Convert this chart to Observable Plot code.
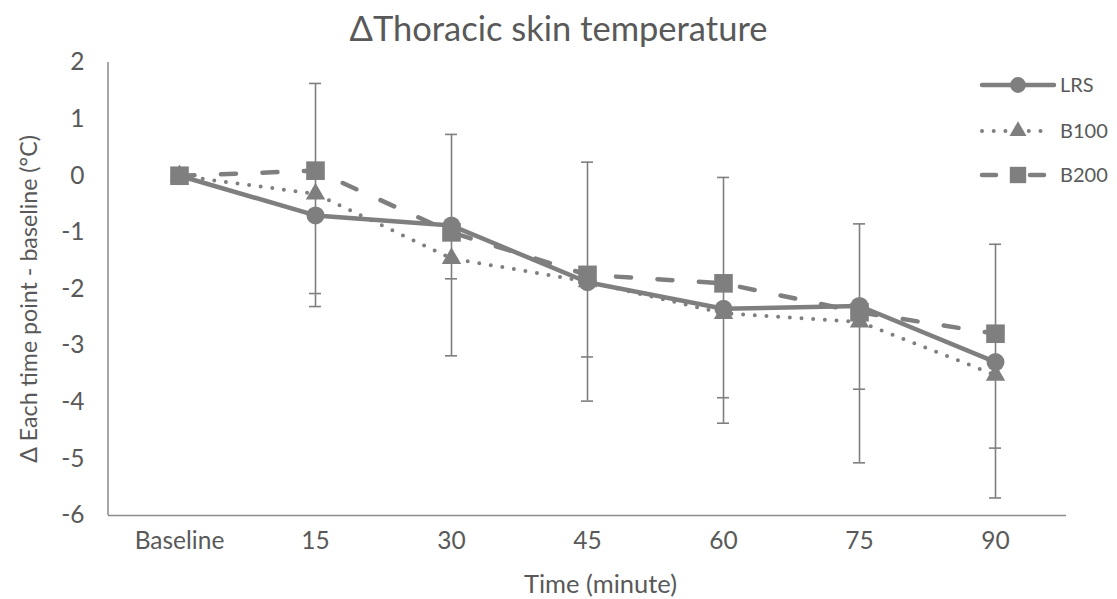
<!DOCTYPE html>
<html>
<head>
<meta charset="utf-8">
<script src="https://cdn.jsdelivr.net/npm/d3@7"></script>
<script src="https://cdn.jsdelivr.net/npm/@observablehq/plot@0.6"></script>
<style>
  body { margin: 0; background: #fff; font-family: Lato, "Open Sans", sans-serif; }
  #wrap { position: relative; width: 1117px; height: 599px; overflow: hidden; }
  #title { height: 35px; padding-top: 10px; line-height: 36px; text-align: center;
           font-size: 34.5px; color: #595959; }
  #legend { position: absolute; left: 0; top: 0; pointer-events: none; }
</style>
</head>
<body>
<div id="wrap">
  <div id="title">ΔThoracic skin temperature</div>
  <div id="chart"></div>
  <svg id="legend" width="1117" height="599"></svg>
</div>
<script>
// Time points (x categories)
const categories = ["Baseline", "15", "30", "45", "60", "75", "90"];

// Mean change from baseline (°C) per group
const lrs  = [0, -0.70, -0.88, -1.88, -2.35, -2.30, -3.29];
const b100 = [0, -0.32, -1.46, -1.87, -2.43, -2.58, -3.52];
const b200 = [0,  0.09, -1.00, -1.75, -1.90, -2.41, -2.79];

// Error bar ends at each time point (no bars at baseline)
const whiskerTop  = [null,  1.63,  0.73,  0.24, -0.03, -0.85, -1.21];
const whiskerLowA = [null, -2.08, -1.82, -3.20, -3.92, -3.77, -4.81];
const whiskerLowB = [null, -2.31, -3.18, -3.98, -4.37, -5.07, -5.69];

const yTicks = [2, 1, 0, -1, -2, -3, -4, -5, -6];

const grey = "#7f7f7f";
const textGrey = "#595959";

const series = [
  {name: "LRS",  values: lrs,  symbol: "circle",   r: 9,    dash: null,      cap: "round"},
  {name: "B100", values: b100, symbol: "triangle", r: 7.2,  dash: "0 11.7",  cap: "round", width: 4},
  {name: "B200", values: b200, symbol: "square",   r: 10.5, dash: "15 26.5", cap: "round"}
];

const rowsFor = s => categories.map((c, i) => ({time: c, value: s.values[i], series: s.name}));

const whiskers = categories
  .map((c, i) => ({time: c, top: whiskerTop[i], lowA: whiskerLowA[i], lowB: whiskerLowB[i]}))
  .filter(d => d.top !== null);

// Left axis line drawn from the y scale's domain ends
const axisLines = (index, scales, values, dimensions) => {
  const g = d3.create("svg:g").attr("stroke", "#8a8a8a").attr("stroke-width", 1.5);
  const [y0, y1] = [scales.y(d3.max(yTicks)), scales.y(d3.min(yTicks))];
  g.append("line")
    .attr("x1", dimensions.marginLeft).attr("x2", dimensions.marginLeft)
    .attr("y1", y0).attr("y2", y1);
  return g.node();
};

const capOpts = {x1: "time", x2: "time", stroke: grey, strokeWidth: 1.6, insetLeft: -6, insetRight: -6};

const marks = [
  // error bars
  Plot.ruleX(whiskers, {x: "time", y1: "top", y2: d => Math.min(d.lowA, d.lowB), stroke: grey, strokeWidth: 1.6}),
  Plot.ruleY(whiskers, {...capOpts, y: "top"}),
  Plot.ruleY(whiskers, {...capOpts, y: "lowA"}),
  Plot.ruleY(whiskers, {...capOpts, y: "lowB"}),
  // axes
  Plot.ruleY([d3.min(yTicks)], {stroke: "#8a8a8a", strokeWidth: 1.5}),
  axisLines,
  Plot.axisY({ticks: yTicks, tickSize: 0, tickPadding: 24, tickFormat: d => String(d), label: null, fontSize: 24.5}),
  Plot.axisX({tickSize: 0, tickPadding: 16, label: null, fontSize: 24.5}),
  Plot.text(["Time (minute)"], {frameAnchor: "bottom", textAnchor: "middle", dy: 77, dx: 13, fontSize: 25.5, fill: textGrey}),
  Plot.text(["Δ Each time point - baseline (°C)"], {frameAnchor: "left", textAnchor: "middle", rotate: -90, dx: -79, dy: 10, fontSize: 23.2, fill: textGrey})
];

for (const s of series) {
  marks.push(Plot.line(rowsFor(s), {
    x: "time", y: "value", stroke: grey, strokeWidth: s.width || 4.5,
    strokeDasharray: s.dash, strokeLinecap: s.cap, strokeLinejoin: "round"
  }));
}
for (const s of series) {
  marks.push(Plot.dot(rowsFor(s), {x: "time", y: "value", symbol: s.symbol, r: s.r, fill: grey, stroke: "none"}));
}

const chart = Plot.plot({
  width: 1117,
  height: 554,
  marginLeft: 108,
  marginRight: 51,
  marginTop: 17,
  marginBottom: 84,
  style: {fontFamily: "Lato, 'Open Sans', sans-serif", color: textGrey, background: "#fff", overflow: "visible"},
  x: {type: "point", domain: categories, padding: 0.5},
  y: {domain: [d3.min(yTicks), d3.max(yTicks)]},
  marks
});
document.getElementById("chart").appendChild(chart);

// Legend at the upper right
const legend = d3.select("#legend");
const legendY = [85, 131, 175];
series.forEach((s, i) => {
  const g = legend.append("g").attr("transform", `translate(0,${legendY[i]})`);
  g.append("line")
    .attr("x1", 982).attr("x2", s.name === "B100" ? 1050 : 1054)
    .attr("stroke", grey).attr("stroke-width", s.width || 4.5)
    .attr("stroke-linecap", "round")
    .attr("stroke-dasharray", s.name === "B200" ? "14 34" : s.dash);
  const sym = {circle: d3.symbolCircle, triangle: d3.symbolTriangle, square: d3.symbolSquare}[s.symbol];
  const rr = s.r * 0.88;
  g.append("path")
    .attr("transform", "translate(1018,0)")
    .attr("d", d3.symbol(sym, Math.PI * rr * rr)())
    .attr("fill", grey);
  g.append("text")
    .attr("x", 1060).attr("dy", "0.35em")
    .attr("fill", textGrey)
    .attr("font-size", 20)
    .attr("font-family", "Lato, 'Open Sans', sans-serif")
    .text(s.name);
});
</script>
</body>
</html>
